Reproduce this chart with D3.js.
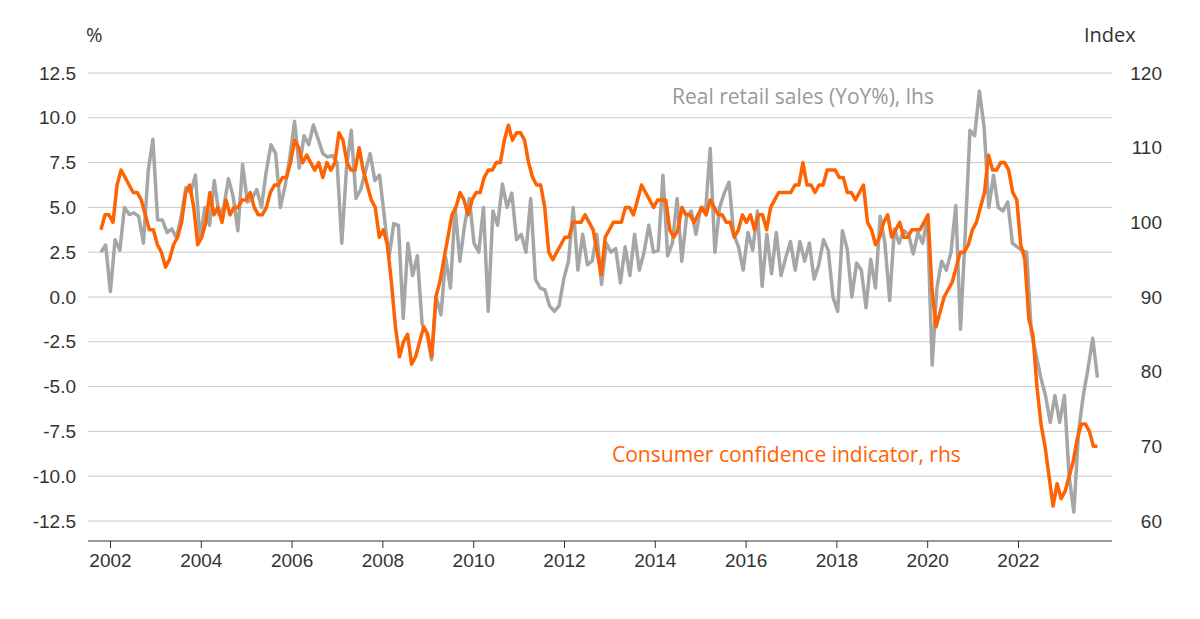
<!DOCTYPE html>
<meta charset="utf-8">
<head>
<style>
  body{margin:0;background:#fff;font-family:"Open Sans",sans-serif;}
  .tick text{font-size:19px;fill:#333;}
</style>
<script src="https://cdn.jsdelivr.net/npm/d3@7"></script>
</head>
<body>
<svg id="chart" width="1200" height="619"></svg>
<script>
// data, roughly monthly, spread evenly from late 2001 to late 2023
const startYear = 2001.8, endYear = 2023.75;
const retailSales = [2.5,2.9,0.3,3.2,2.6,5.0,4.6,4.7,4.5,3.0,7.0,8.8,4.3,4.3,3.6,3.8,3.3,4.5,6.1,5.8,6.8,3.2,5.0,4.0,6.5,4.6,5.0,6.6,5.6,3.7,7.4,5.3,5.5,6.0,5.0,7.0,8.5,8.0,5.0,6.2,7.8,9.8,7.2,9.0,8.5,9.6,8.8,8.0,7.8,7.9,7.5,3.0,7.2,9.3,5.5,6.0,7.0,8.0,6.5,6.8,4.5,2.2,4.1,4.0,-1.2,3.0,1.2,2.3,-1.5,-2.0,-3.5,0.0,-1.0,2.2,0.5,5.0,2.0,4.0,5.5,3.0,2.5,5.0,-0.8,4.8,4.0,6.3,5.0,5.8,3.2,3.5,2.5,5.5,1.0,0.5,0.4,-0.5,-0.8,-0.5,1.0,2.0,5.0,1.5,3.5,1.8,2.0,3.5,0.7,3.0,2.5,2.7,0.8,2.8,1.2,3.5,1.5,2.5,4.0,2.5,2.6,6.8,2.3,3.0,5.5,2.0,4.5,4.8,3.5,5.0,4.7,8.3,2.5,5.0,5.8,6.4,3.5,2.8,1.5,3.6,2.6,4.8,0.6,3.5,1.3,3.6,1.2,2.2,3.1,1.5,3.1,2.0,3.0,1.0,1.8,3.2,2.6,0.0,-0.8,3.7,2.7,0.0,1.9,1.5,-0.6,2.1,0.5,4.5,3.0,-0.2,3.8,3.0,3.7,3.5,2.4,3.6,3.0,4.5,-3.8,0.5,2.0,1.5,2.5,5.1,-1.8,3.5,9.3,9.0,11.5,9.5,5.0,6.8,5.0,4.8,5.3,3.0,2.8,2.6,2.5,-2.0,-3.2,-4.5,-5.5,-7.0,-5.5,-7.0,-5.5,-10.0,-12.0,-7.5,-5.5,-4.0,-2.3,-4.5];
const confidence = [99,101,101,100,105,107,106,105,104,104,103,101,99,99,97,96,94,95,97,98,100,104,105,102,97,98,100,104,101,102,100,103,101,102,102,103,103,104,102,101,101,102,104,105,105,106,106,108,111,110,108,109,108,107,108,106,108,107,108,112,111,108,107,107,110,107,105,103,102,98,99,97,92,86,82,84,85,81,82,84,86,85,82,90,92,95,98,101,102,104,103,101,103,104,104,106,107,107,108,108,111,113,111,112,112,111,108,106,105,105,102,96,95,96,97,98,98,100,100,100,101,100,99,96,93,98,99,100,100,100,102,102,101,103,105,104,103,102,103,103,103,99,98,99,102,101,101,100,101,102,101,103,102,101,101,100,100,98,99,101,100,101,99,101,101,99,102,103,104,104,104,104,105,105,108,105,105,104,105,105,107,107,107,106,106,104,104,103,104,105,100,99,97,98,100,101,98,99,100,98,98,99,99,99,100,101,91,86,88,90,91,92,94,96,96,97,99,100,102,104,109,107,107,108,108,107,104,103,97,95,87,85,78,73,70,66,62,65,63,64,66,68,71,73,73,72,70,70];
const leftTicks = [12.5,10,7.5,5,2.5,0,-2.5,-5,-7.5,-10,-12.5];
const rightTicks = [120,110,100,90,80,70,60];
const yearTicks = [2002,2004,2006,2008,2010,2012,2014,2016,2018,2020,2022];

const svg = d3.select("#chart");
const x = d3.scaleLinear().domain([2002, 2022]).range([110, 1018]);
const yL = d3.scaleLinear().domain([-12.5, 12.5]).range([521, 73]);
const yR = d3.scaleLinear().domain([60, 120]).range([521, 73]);

// grid
svg.append("g").selectAll("line").data(leftTicks).join("line")
  .attr("x1", 88).attr("x2", 1112)
  .attr("y1", d => yL(d)).attr("y2", d => yL(d))
  .attr("stroke", "#c8c8c8").attr("stroke-width", 1);

const fmt = d => d3.format(".1f")(d).replace("−", "-");
svg.append("g").attr("transform", "translate(76,0)")
  .call(d3.axisLeft(yL).tickValues(leftTicks).tickFormat(fmt).tickSize(0).tickPadding(0))
  .call(g => g.select(".domain").remove());
svg.append("g").attr("transform", "translate(1162,0)")
  .call(d3.axisRight(yR).tickValues(rightTicks).tickSize(0).tickPadding(0))
  .call(g => g.select(".domain").remove())
  .call(g => g.selectAll("text").attr("text-anchor", "end"));

svg.append("g").attr("transform", "translate(0,541)")
  .call(d3.axisBottom(x).tickValues(yearTicks).tickFormat(d3.format("d")).tickSize(7).tickPadding(6).tickSizeOuter(0))
  .call(g => g.select(".domain").attr("d", "M88,0H1112").attr("stroke", "#333"))
  .call(g => g.selectAll(".tick line").attr("stroke", "#333"));

function series(arr){
  const step = (endYear - startYear) / (arr.length - 1);
  return arr.map((v, i) => [startYear + i * step, v]);
}
svg.append("path").datum(series(retailSales))
  .attr("fill", "none").attr("stroke", "#a6a6a6").attr("stroke-width", 3.5)
  .attr("stroke-linejoin", "round")
  .attr("d", d3.line().x(d => x(d[0])).y(d => yL(d[1])));
svg.append("path").datum(series(confidence))
  .attr("fill", "none").attr("stroke", "#ff6200").attr("stroke-width", 3.5)
  .attr("stroke-linejoin", "round")
  .attr("d", d3.line().x(d => x(d[0])).y(d => yR(d[1])));

svg.append("text").attr("x", 86).attr("y", 42).attr("font-size", 20).attr("fill", "#333").text("%");
svg.append("text").attr("x", 1084).attr("y", 42).attr("font-size", 20).attr("fill", "#333").text("Index");
svg.append("text").attr("x", 672).attr("y", 104).attr("font-size", 21).attr("fill", "#999").text("Real retail sales (YoY%), lhs");
svg.append("text").attr("x", 612).attr("y", 462).attr("font-size", 21).attr("fill", "#ff6200").text("Consumer confidence indicator, rhs");
</script>
</body>
